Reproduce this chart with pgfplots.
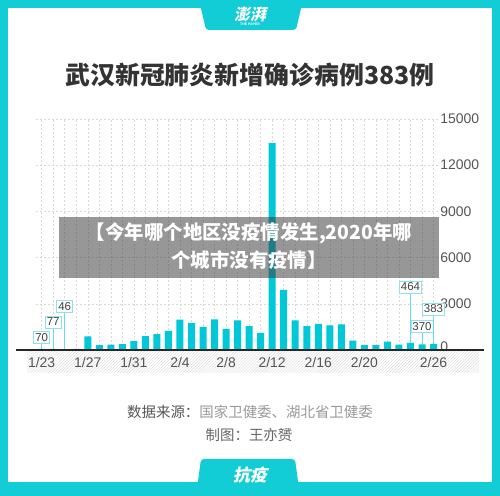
\documentclass[border=0pt]{standalone}
\usepackage{pgfplots}
\pgfplotsset{compat=1.18}
\usepackage{fontspec}
\usetikzlibrary{patterns}
\setmainfont{Liberation Sans}
\newfontfamily\cjk{Noto Sans CJK SC}
\newfontfamily\cjkslant[FakeSlant=0.2]{Noto Sans CJK SC}

\definecolor{framecyan}{HTML}{12CDD6}
\definecolor{barcyan}{HTML}{00C8D8}
\definecolor{titlegray}{HTML}{333333}
\definecolor{tickgray}{HTML}{555555}
\definecolor{boxline}{HTML}{8EE3EA}
\definecolor{footgray}{HTML}{999999}

\tikzset{
  annobox/.style={draw=boxline, fill=white, line width=0.8bp, inner xsep=1.5bp,
    inner ysep=1bp, minimum height=12bp, text=black!75,
    font=\fontsize{11.5}{11.5}\selectfont},
  annoline/.style={draw=barcyan!60, line width=0.7bp},
}

\begin{document}
\begin{tikzpicture}[x=1bp,y=1bp]
\useasboundingbox (0,0) rectangle (500,496);
% frame and panel
\fill[framecyan] (0,0) rectangle (500,496);
\fill[white] (8,14) rectangle (492,488);
\fill[framecyan, rounded corners=3bp] (199,496) -- (206,466) -- (296,466) -- (303,496) -- cycle;
\fill[framecyan, rounded corners=3bp] (196,0) -- (201,37) -- (295,37) -- (300,0) -- cycle;
\node[text=white, font=\cjkslant\bfseries\fontsize{16}{16}\selectfont] at (250,482) {澎湃};
\node[text=white, font=\bfseries\fontsize{3.5}{3.5}\selectfont] at (250,471.5) {THE PAPER};
\node[text=white, font=\cjkslant\bfseries\fontsize{17}{17}\selectfont] at (250,21) {抗疫};

% title and footer
\node[text=titlegray, font=\cjk\bfseries\fontsize{25}{25}\selectfont] at (250,421) {武汉新冠肺炎新增确诊病例383例};
\node[font=\cjk\fontsize{14.5}{14.5}\selectfont] at (250,84.3)
  {\textcolor{tickgray}{数据来源：}\textcolor{footgray}{国家卫健委、湖北省卫健委}};
\node[text=black!60, font=\cjk\fontsize{14.5}{14.5}\selectfont] at (249,61) {制图：王亦赟};

% band under the axis
\fill[pattern=north east lines, pattern color=gray!30] (27,123) rectangle (479,145);

\begin{axis}[
  at={(35.9bp,146bp)}, anchor=south west,
  scale only axis, width=403.4bp, height=231bp,
  xmin=-0.5, xmax=34.5, ymin=0, ymax=15000,
  clip=false,
  ybar, bar width=7bp,
  axis line style={draw=none},
  major tick length=0pt,
  xtick={0,...,34},
  xticklabels={1/23,,,,1/27,,,,1/31,,,,2/4,,,,2/8,,,,2/12,,,,2/16,,,,2/20,,,,,,2/26},
  ytick={0,3000,...,15000},
  yticklabels={{\raisebox{6bp}{0}},3000,6000,9000,12000,15000},
  scaled y ticks=false,
  yticklabel pos=right,
  grid=major,
  grid style={dash pattern=on 2bp off 2bp, gray!30, line width=0.5bp},
  ticklabel style={font=\fontsize{14}{14}\selectfont, text=tickgray},
  x tick label style={yshift=-4bp},
  y tick label style={xshift=-2.5bp},
]
\addplot[fill=barcyan, draw=none] coordinates {
(0,70) (1,77) (2,46) (3,80) (4,892) (5,315) (6,356) (7,378) (8,576)
(9,894) (10,1033) (11,1242) (12,1967) (13,1766) (14,1501) (15,1985)
(16,1379) (17,1920) (18,1552) (19,1104) (20,13436) (21,3910) (22,1923)
(23,1548) (24,1690) (25,1600) (26,1660) (27,615) (28,319) (29,314)
(30,541) (31,348) (32,464) (33,370) (34,383)
};
\draw[annoline] (axis cs:0,70) -- (axis cs:0,800) node[annobox] {70};
\draw[annoline] (axis cs:1,77) -- (axis cs:1,1820) node[annobox] {77};
\draw[annoline] (axis cs:2,46) -- (axis cs:2,2815) node[annobox] {46};
\draw[annoline] (axis cs:32,464) -- (axis cs:32,4095) node[annobox] {464};
\draw[annoline] (axis cs:33,370) -- (axis cs:33,1515) node[annobox] {370};
\draw[annoline] (axis cs:34,383) -- (axis cs:34,2665) node[annobox] {383};
\end{axis}

\draw[line width=1.5bp, black!85] (16,146) -- (484,146);

% grey caption overlay
\fill[black!78, opacity=0.52] (59,218) rectangle (439,279.3);
\node[text=white, align=center, font=\cjk\bfseries\fontsize{19.5}{29}\selectfont] at (249,250)
  {【今年哪个地区没疫情发生,2020年哪\\个城市没有疫情】};
\end{tikzpicture}
\end{document}
